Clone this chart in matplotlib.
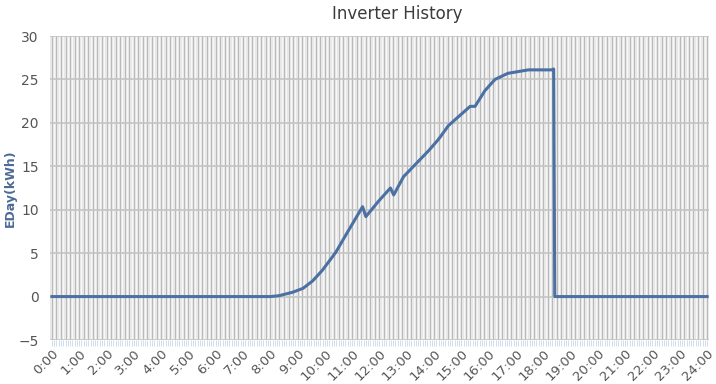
import numpy as np
import matplotlib
matplotlib.use("Agg")
import matplotlib.pyplot as plt

hours = [0.0, 8.0, 8.32, 8.82, 9.2, 9.55, 9.9, 10.4, 10.75, 11.38, 11.5, 11.97, 12.4, 12.52,
         12.88, 13.8, 14.16, 14.53, 15.07, 15.32, 15.5, 15.86, 16.23, 16.7, 17.45,
         18.3, 18.38, 18.42, 24.0]
eday = [0.0, 0.0, 0.1, 0.5, 0.95, 1.8, 3.0, 5.1, 7.0, 10.35, 9.2, 11.0, 12.5, 11.7,
        13.8, 16.8, 18.1, 19.7, 21.2, 21.9, 21.9, 23.7, 25.0, 25.7, 26.1,
        26.1, 26.2, 0.0, 0.0]
xtick_labels = [f"{h}:00" for h in range(25)]
yticks = [-5, 0, 5, 10, 15, 20, 25, 30]

fig = plt.figure(figsize=(7.16, 3.84), dpi=100)
ax = fig.add_axes([50/716, 1-340/384, 659/716, 304/384])
ax.set_facecolor("#e8e8e8")

# dense category grid (5-minute slots)
for i, m in enumerate(np.arange(0, 24*60+1, 5)):
    ax.axvline(m/60, color="#b8b8b8" if i % 2 == 0 else "#f8f8f8", lw=0.7, zorder=1)
for y in yticks:
    ax.axhline(y, color="#c4c4c4", lw=1.2, zorder=2)

ax.plot(hours, eday, color="#4a70a4", lw=2.2, zorder=5, solid_joinstyle="round")

ax.set_xlim(-0.07, 24.07)
ax.set_ylim(-5, 30)
ax.set_yticks(yticks)
ax.set_yticklabels([f"{y}" if y >= 0 else "\u22125" for y in yticks])
ax.set_xticks(range(25))
ax.set_xticklabels(xtick_labels, rotation=45, ha="right", rotation_mode="anchor")
ax.set_xticks(np.arange(0, 24.01, 5/60), minor=True)
ax.tick_params(axis="x", which="minor", length=4, color="#c8d8ea", width=0.6)
ax.tick_params(axis="x", which="major", length=4, color="#c8d8ea", width=0.6,
               labelsize=9.5, labelcolor="#555555", pad=1)
ax.tick_params(axis="y", length=0, labelsize=10, labelcolor="#555555", pad=8)
for s in ax.spines.values():
    s.set_visible(False)

ax.set_ylabel("EDay(kWh)", fontsize=9, fontweight="bold", color="#4d6b96")
ax.yaxis.set_label_coords(-33/659, 0.5)
fig.text(0.555, 0.963, "Inverter History", ha="center", va="center",
         fontsize=12, color="#3c3c3c")

fig.savefig("out.png", dpi=100)
